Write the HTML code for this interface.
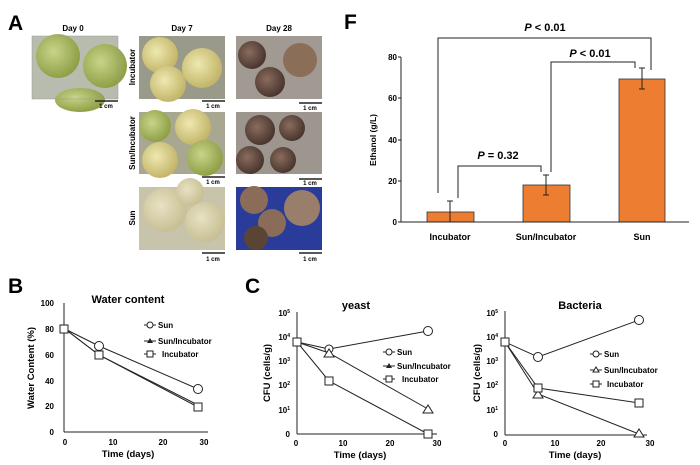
<!DOCTYPE html>
<html><head><style>
body{margin:0;background:#fff;}
svg{display:block;font-family:"Liberation Sans",sans-serif;font-weight:bold;}
</style></head><body>
<svg width="700" height="465" viewBox="0 0 700 465" xmlns="http://www.w3.org/2000/svg">
<defs>
<radialGradient id="g1" cx="40%" cy="40%" r="60%"><stop offset="0" stop-color="#c8d48a"/><stop offset="1" stop-color="#8fa046"/></radialGradient>
<radialGradient id="g2" cx="40%" cy="40%" r="60%"><stop offset="0" stop-color="#eee8b0"/><stop offset="1" stop-color="#c3b66a"/></radialGradient>
<radialGradient id="g3" cx="40%" cy="40%" r="60%"><stop offset="0" stop-color="#8a6c5c"/><stop offset="1" stop-color="#4a3630"/></radialGradient>
<radialGradient id="g4" cx="40%" cy="40%" r="60%"><stop offset="0" stop-color="#e8e2c4"/><stop offset="1" stop-color="#c8bf94"/></radialGradient>
</defs>
<!-- Panel A -->
<text x="8" y="30" font-size="21">A</text>
<g font-size="8" text-anchor="middle">
<text x="73" y="31">Day 0</text><text x="182" y="31">Day 7</text><text x="279" y="31">Day 28</text>
</g>
<rect x="32" y="36" width="86" height="63" fill="#b8bcae"/>
<circle cx="58" cy="56" r="22" fill="url(#g1)"/><circle cx="105" cy="66" r="22" fill="url(#g1)"/><ellipse cx="80" cy="100" rx="25" ry="12" fill="url(#g1)"/>
<rect x="32" y="36" width="86" height="63" fill="none" stroke="#999" stroke-width="0.5"/>
<rect x="139" y="36" width="86" height="63" fill="#9a9a8a"/>
<circle cx="160" cy="55" r="18" fill="url(#g2)"/><circle cx="202" cy="68" r="20" fill="url(#g2)"/><circle cx="168" cy="84" r="18" fill="url(#g2)"/>
<rect x="139" y="112" width="86" height="62" fill="#a8a890"/>
<circle cx="155" cy="126" r="16" fill="url(#g1)"/><circle cx="193" cy="127" r="18" fill="url(#g2)"/><circle cx="160" cy="160" r="18" fill="url(#g2)"/><circle cx="205" cy="158" r="18" fill="url(#g1)"/>
<rect x="139" y="187" width="86" height="63" fill="#c8c4ac"/>
<circle cx="165" cy="210" r="22" fill="url(#g4)"/><circle cx="205" cy="222" r="20" fill="url(#g4)"/><circle cx="190" cy="192" r="14" fill="url(#g4)"/>
<rect x="236" y="36" width="86" height="63" fill="#a09a92"/>
<circle cx="252" cy="55" r="14" fill="url(#g3)"/><circle cx="300" cy="60" r="17" fill="#8a6e58"/><circle cx="270" cy="82" r="15" fill="url(#g3)"/>
<rect x="236" y="112" width="86" height="62" fill="#9c968e"/>
<circle cx="260" cy="130" r="15" fill="url(#g3)"/><circle cx="292" cy="128" r="13" fill="url(#g3)"/><circle cx="250" cy="160" r="14" fill="url(#g3)"/><circle cx="283" cy="160" r="13" fill="url(#g3)"/>
<rect x="236" y="187" width="86" height="63" fill="#2a3c9a"/>
<circle cx="254" cy="200" r="14" fill="#8a6c58"/><circle cx="302" cy="208" r="18" fill="#9a7e6c"/><circle cx="272" cy="223" r="14" fill="#8a6c58"/><circle cx="256" cy="238" r="12" fill="#5a4434"/>
<g stroke="#222" stroke-width="1.5">
<line x1="95" y1="101" x2="118" y2="101"/><line x1="202" y1="101" x2="225" y2="101"/><line x1="299" y1="103" x2="322" y2="103"/>
<line x1="202" y1="177" x2="225" y2="177"/><line x1="299" y1="179" x2="322" y2="179"/>
<line x1="202" y1="253" x2="225" y2="253"/><line x1="299" y1="253" x2="322" y2="253"/>
</g>
<g font-size="6" text-anchor="middle">
<text x="106" y="108">1 cm</text><text x="213" y="108">1 cm</text><text x="310" y="110">1 cm</text>
<text x="213" y="184">1 cm</text><text x="310" y="185">1 cm</text>
<text x="213" y="261">1 cm</text><text x="310" y="261">1 cm</text>
</g>
<g font-size="8" text-anchor="middle">
<text transform="translate(135,67) rotate(-90)">Incubator</text>
<text transform="translate(135,143) rotate(-90)">Sun/Incubator</text>
<text transform="translate(135,218) rotate(-90)">Sun</text>
</g>

<!-- Panel F -->
<text x="344" y="29" font-size="21">F</text>
<g fill="#ed7d31" stroke="#333" stroke-width="0.8">
<rect x="427" y="212" width="47" height="10"/>
<rect x="523" y="185" width="47" height="37"/>
<rect x="619" y="79" width="46" height="143"/>
</g>
<g stroke="#222" stroke-width="1" fill="none">
<line x1="401" y1="57" x2="401" y2="222"/>
<line x1="401" y1="222" x2="689" y2="222"/>
<line x1="398" y1="57" x2="401" y2="57"/><line x1="398" y1="98" x2="401" y2="98"/><line x1="398" y1="140" x2="401" y2="140"/><line x1="398" y1="181" x2="401" y2="181"/><line x1="398" y1="222" x2="401" y2="222"/>
<path d="M450 201V222M447 201h6"/>
<path d="M546 175V195M543 175h6M543 195h6"/>
<path d="M642 68V89M639 68h6M639 89h6"/>
<path d="M438 193V38H651V70"/>
<path d="M551 172V62H635V68"/>
<path d="M458 198V166H541V172"/>
</g>
<g font-size="8" text-anchor="end">
<text x="397" y="60">80</text><text x="397" y="101">60</text><text x="397" y="143">40</text><text x="397" y="184">20</text><text x="397" y="225">0</text>
</g>
<text transform="translate(376,140) rotate(-90)" font-size="8.5" text-anchor="middle">Ethanol (g/L)</text>
<g font-size="9" text-anchor="middle">
<text x="450" y="240">Incubator</text><text x="546" y="240">Sun/Incubator</text><text x="642" y="240">Sun</text>
</g>
<g font-size="11" text-anchor="middle">
<text x="545" y="31"><tspan font-style="italic">P</tspan> &lt; 0.01</text>
<text x="590" y="57"><tspan font-style="italic">P</tspan> &lt; 0.01</text>
<text x="498" y="159"><tspan font-style="italic">P</tspan> = 0.32</text>
</g>

<!-- Panel B -->
<text x="8" y="293" font-size="21">B</text>
<text x="128" y="303" font-size="11" text-anchor="middle">Water content</text>
<g stroke="#222" stroke-width="1" fill="none">
<line x1="64" y1="303" x2="64" y2="432"/><line x1="64" y1="432" x2="208" y2="432"/>
<polyline points="65,329 99,346 198,389"/>
<polyline points="65,329 99,355 198,405"/>
<polyline points="65,329 99,355 198,407"/>
<circle cx="99" cy="346" r="4.5" fill="#fff"/><circle cx="198" cy="389" r="4.5" fill="#fff"/>
<rect x="60" y="325" width="8" height="8" fill="#fff"/>
<rect x="95" y="351" width="8" height="8" fill="#fff"/><rect x="194" y="403" width="8" height="8" fill="#fff"/>
<line x1="144" y1="325" x2="156" y2="325"/><circle cx="150" cy="325" r="3" fill="#fff"/>
<line x1="144" y1="341" x2="156" y2="341"/>
<line x1="144" y1="354" x2="156" y2="354"/><rect x="147" y="351" width="6" height="6" fill="#fff"/>
</g>
<path d="M147 343L150 338L153 343Z" fill="#222"/>
<g font-size="8">
<text x="158" y="328">Sun</text><text x="158" y="344">Sun/Incubator</text><text x="162" y="357">Incubator</text>
</g>
<g font-size="8" text-anchor="end">
<text x="54" y="306">100</text><text x="54" y="332">80</text><text x="54" y="358">60</text><text x="54" y="384">40</text><text x="54" y="409">20</text><text x="54" y="435">0</text>
</g>
<g font-size="8" text-anchor="middle">
<text x="65" y="445">0</text><text x="113" y="445">10</text><text x="163" y="445">20</text><text x="204" y="445">30</text>
</g>
<text x="128" y="457" font-size="9.5" text-anchor="middle">Time (days)</text>
<text transform="translate(34,368) rotate(-90)" font-size="9.5" text-anchor="middle">Water Content (%)</text>

<!-- Panel C -->
<text x="245" y="293" font-size="21">C</text>
<text x="356" y="309" font-size="11" text-anchor="middle">yeast</text>
<g stroke="#222" stroke-width="1" fill="none">
<line x1="297" y1="312" x2="297" y2="434"/><line x1="297" y1="434" x2="437" y2="434"/>
<polyline points="297,342 329,349 428,331"/>
<polyline points="297,342 329,353 428,409"/>
<polyline points="297,342 329,381 428,434"/>
<rect x="293" y="338" width="8" height="8" fill="#fff"/>
<circle cx="329" cy="349" r="4" fill="#fff"/><circle cx="428" cy="331" r="4.5" fill="#fff"/>
<path d="M324 357L329 349L334 357Z" fill="#fff"/><path d="M423 413L428 405L433 413Z" fill="#fff"/>
<rect x="325" y="377" width="8" height="8" fill="#fff"/><rect x="424" y="430" width="8" height="8" fill="#fff"/>
<line x1="383" y1="352" x2="395" y2="352"/><circle cx="389" cy="352" r="3" fill="#fff"/>
<line x1="383" y1="366" x2="395" y2="366"/>
<line x1="383" y1="379" x2="395" y2="379"/><rect x="386" y="376" width="6" height="6" fill="#fff"/>
</g>
<path d="M386 368L389 363L392 368Z" fill="#222"/>
<g font-size="8">
<text x="397" y="355">Sun</text><text x="397" y="369">Sun/Incubator</text><text x="402" y="382">Incubator</text>
</g>
<text x="580" y="309" font-size="11" text-anchor="middle">Bacteria</text>
<g stroke="#222" stroke-width="1" fill="none">
<line x1="505" y1="311" x2="505" y2="435"/><line x1="505" y1="435" x2="647" y2="435"/>
<polyline points="505,342 538,357 639,320"/>
<polyline points="505,342 538,394 639,434"/>
<polyline points="505,342 538,388 639,403"/>
<rect x="501" y="338" width="8" height="8" fill="#fff"/>
<circle cx="538" cy="357" r="4.5" fill="#fff"/><circle cx="639" cy="320" r="4.5" fill="#fff"/>
<path d="M533 398L538 390L543 398Z" fill="#fff"/><path d="M634 437L639 429L644 437Z" fill="#fff"/>
<rect x="534" y="384" width="8" height="8" fill="#fff"/><rect x="635" y="399" width="8" height="8" fill="#fff"/>
<line x1="590" y1="354" x2="602" y2="354"/><circle cx="596" cy="354" r="3" fill="#fff"/>
<line x1="590" y1="370" x2="602" y2="370"/><path d="M593 372L596 367L599 372Z" fill="#fff"/>
<line x1="590" y1="384" x2="602" y2="384"/><rect x="593" y="381" width="6" height="6" fill="#fff"/>
</g>
<g font-size="8">
<text x="604" y="357">Sun</text><text x="604" y="373">Sun/Incubator</text><text x="607" y="387">Incubator</text>
</g>
<g font-size="8" text-anchor="end">
<text x="290" y="316">10<tspan font-size="5" dy="-3">5</tspan></text>
<text x="290" y="340">10<tspan font-size="5" dy="-3">4</tspan></text>
<text x="290" y="364">10<tspan font-size="5" dy="-3">3</tspan></text>
<text x="290" y="388">10<tspan font-size="5" dy="-3">2</tspan></text>
<text x="290" y="413">10<tspan font-size="5" dy="-3">1</tspan></text>
<text x="290" y="437">0</text>
<text x="498" y="316">10<tspan font-size="5" dy="-3">5</tspan></text>
<text x="498" y="340">10<tspan font-size="5" dy="-3">4</tspan></text>
<text x="498" y="364">10<tspan font-size="5" dy="-3">3</tspan></text>
<text x="498" y="388">10<tspan font-size="5" dy="-3">2</tspan></text>
<text x="498" y="413">10<tspan font-size="5" dy="-3">1</tspan></text>
<text x="498" y="437">0</text>
</g>
<g font-size="8" text-anchor="middle">
<text x="296" y="446">0</text><text x="343" y="446">10</text><text x="390" y="446">20</text><text x="437" y="446">30</text>
<text x="505" y="446">0</text><text x="555" y="446">10</text><text x="601" y="446">20</text><text x="650" y="446">30</text>
</g>
<text x="360" y="458" font-size="9.5" text-anchor="middle">Time (days)</text>
<text x="575" y="458" font-size="9.5" text-anchor="middle">Time (days)</text>
<text transform="translate(270,373) rotate(-90)" font-size="9.5" text-anchor="middle">CFU (cells/g)</text>
<text transform="translate(480,373) rotate(-90)" font-size="9.5" text-anchor="middle">CFU (cells/g)</text>
</svg>
</body></html>
